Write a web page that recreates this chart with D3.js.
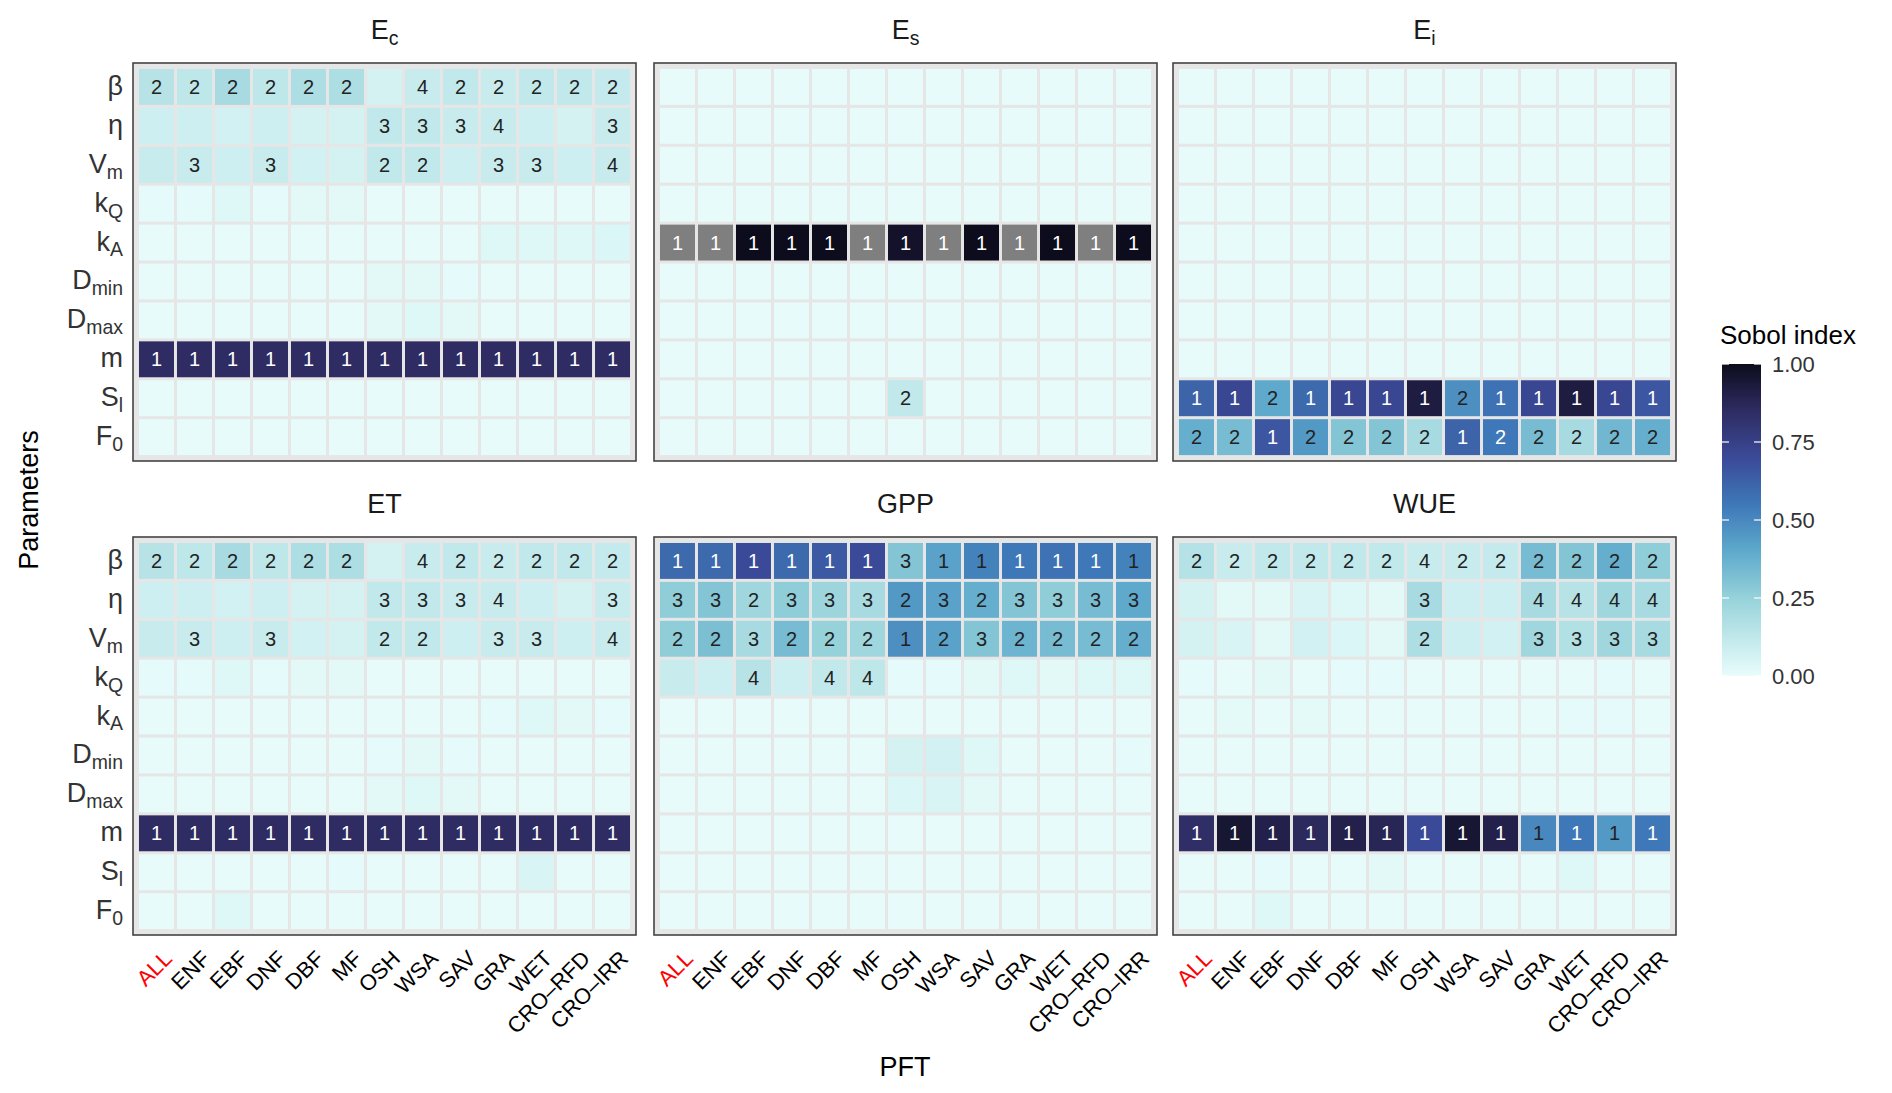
<!DOCTYPE html>
<html><head><meta charset="utf-8">
<script src="https://cdn.jsdelivr.net/npm/d3@7"></script>
<style>body{margin:0;background:#fff}text{font-family:"Liberation Sans",Arial,sans-serif}</style>
</head><body><svg id="c" width="1892" height="1093"></svg>
<script>
const pfts = ["ALL","ENF","EBF","DNF","DBF","MF","OSH","WSA","SAV","GRA","WET","CRO\u2013RFD","CRO\u2013IRR"];
const params = [["β",""],["η",""],["V","m"],["k","Q"],["k","A"],["D","min"],["D","max"],["m",""],["S","l"],["F","0"]];
const legendTicks = [0,0.25,0.5,0.75,1];
const z13 = v => Array(13).fill(v);
const E = z13("");

const EcVals = [
 [0.15,0.13,0.2,0.13,0.18,0.18,0.06,0.1,0.12,0.1,0.12,0.12,0.11],
 [0.08,0.08,0.07,0.08,0.06,0.06,0.12,0.12,0.1,0.1,0.08,0.06,0.1],
 [0.1,0.1,0.08,0.1,0.07,0.06,0.12,0.12,0.08,0.1,0.1,0.08,0.1],
 [0.01,0.01,0.03,0.01,0.02,0.02,0.005,0.005,0.005,0.005,0.005,0.005,0.005],
 [0.005,0.005,0.005,0.005,0.005,0.005,0.005,0.005,0.005,0.03,0.03,0.03,0.04],
 [0.005,0.005,0.005,0.005,0.005,0.005,0.02,0.02,0.01,0.005,0.005,0.005,0.005],
 [0.005,0.005,0.005,0.005,0.005,0.005,0.02,0.03,0.02,0.005,0.005,0.005,0.005],
 [0.85,0.85,0.85,0.85,0.85,0.85,0.85,0.85,0.85,0.85,0.85,0.85,0.85],
 z13(0.005), z13(0.005)];
const EcLab = [
 ["2","2","2","2","2","2","","4","2","2","2","2","2"],
 ["","","","","","","3","3","3","4","","","3"],
 ["","3","","3","","","2","2","","3","3","","4"],
 E,E,E,E, z13("1"), E,E];

const EtVals = [
 [0.15,0.13,0.2,0.13,0.18,0.18,0.06,0.1,0.12,0.1,0.12,0.12,0.11],
 [0.08,0.08,0.07,0.08,0.06,0.06,0.12,0.12,0.1,0.1,0.08,0.06,0.1],
 [0.1,0.1,0.08,0.1,0.07,0.06,0.12,0.12,0.08,0.1,0.1,0.08,0.1],
 [0.01,0.01,0.03,0.01,0.02,0.02,0.005,0.005,0.005,0.005,0.005,0.005,0.005],
 [0.005,0.005,0.005,0.005,0.005,0.005,0.005,0.005,0.005,0.01,0.03,0.02,0.01],
 [0.005,0.005,0.005,0.005,0.005,0.005,0.01,0.02,0.01,0.005,0.005,0.005,0.005],
 [0.005,0.005,0.005,0.005,0.005,0.005,0.02,0.03,0.02,0.005,0.005,0.005,0.005],
 z13(0.85),
 [0.005,0.005,0.005,0.005,0.005,0.01,0.005,0.005,0.005,0.005,0.05,0.005,0.005],
 [0.005,0.005,0.03,0.005,0.005,0.005,0.005,0.005,0.005,0.005,0.005,0.005,0.005]];
const EtLab = EcLab;

const EsVals = [
 z13(0.005),z13(0.005),z13(0.005),z13(0.005),
 [null,null,1,1,1,null,0.97,null,1,null,1,null,1],
 z13(0.005),z13(0.005),z13(0.005),
 [0.005,0.005,0.005,0.005,0.005,0.005,0.12,0.005,0.005,0.005,0.005,0.005,0.005],
 z13(0.005)];
const EsLab = [E,E,E,E,z13("1"),E,E,E,["","","","","","","2","","","","","",""],E];

const EiVals = [
 z13(0.005),z13(0.005),z13(0.005),z13(0.005),z13(0.005),z13(0.005),z13(0.005),z13(0.005),
 [0.62,0.72,0.4,0.6,0.72,0.72,0.92,0.48,0.57,0.72,0.92,0.72,0.66],
 [0.38,0.33,0.66,0.45,0.3,0.3,0.2,0.62,0.55,0.33,0.2,0.35,0.38]];
const EiLab = [E,E,E,E,E,E,E,E,
 ["1","1","2","1","1","1","1","2","1","1","1","1","1"],
 ["2","2","1","2","2","2","2","1","2","2","2","2","2"]];

const GppVals = [
 [0.6,0.6,0.7,0.6,0.65,0.7,0.3,0.42,0.52,0.55,0.57,0.55,0.52],
 [0.27,0.3,0.22,0.27,0.23,0.2,0.45,0.42,0.38,0.3,0.27,0.33,0.4],
 [0.27,0.32,0.2,0.33,0.25,0.22,0.48,0.42,0.3,0.36,0.33,0.33,0.38],
 [0.1,0.08,0.15,0.08,0.12,0.13,0.01,0.01,0.02,0.03,0.02,0.03,0.03],
 z13(0.005),
 [0.005,0.005,0.005,0.005,0.005,0.005,0.06,0.07,0.03,0.005,0.005,0.005,0.01],
 [0.005,0.005,0.005,0.005,0.005,0.005,0.04,0.05,0.02,0.005,0.005,0.005,0.005],
 z13(0.005),z13(0.005),z13(0.005)];
const GppLab = [
 ["1","1","1","1","1","1","3","1","1","1","1","1","1"],
 ["3","3","2","3","3","3","2","3","2","3","3","3","3"],
 ["2","2","3","2","2","2","1","2","3","2","2","2","2"],
 ["","","4","","4","4","","","","","","",""],E,E,E,E,E,E];

const WueVals = [
 [0.16,0.1,0.12,0.12,0.12,0.12,0.1,0.1,0.11,0.33,0.3,0.38,0.27],
 [0.06,0.02,0.02,0.05,0.03,0.02,0.2,0.08,0.08,0.2,0.15,0.22,0.2],
 [0.06,0.05,0.02,0.07,0.04,0.02,0.18,0.08,0.07,0.22,0.17,0.22,0.2],
 [0.01,0.005,0.02,0.005,0.01,0.01,0.005,0.005,0.005,0.005,0.005,0.01,0.005],
 [0.005,0.015,0.005,0.015,0.005,0.005,0.005,0.005,0.005,0.005,0.01,0.01,0.005],
 z13(0.005),z13(0.005),
 [0.84,0.95,0.9,0.86,0.9,0.88,0.7,0.95,0.9,0.5,0.55,0.45,0.55],
 [0.005,0.005,0.01,0.005,0.005,0.02,0.005,0.005,0.005,0.005,0.03,0.005,0.005],
 [0.005,0.005,0.03,0.005,0.005,0.005,0.005,0.005,0.005,0.005,0.005,0.005,0.005]];
const WueLab = [
 ["2","2","2","2","2","2","4","2","2","2","2","2","2"],
 ["","","","","","","3","","","4","4","4","4"],
 ["","","","","","","2","","","3","3","3","3"],
 E,E,E,E,z13("1"),E,E];

const panels = [
 {t:["E","c"],v:EcVals,l:EcLab,x:133,y:63},
 {t:["E","s"],v:EsVals,l:EsLab,x:654,y:63},
 {t:["E","i"],v:EiVals,l:EiLab,x:1173,y:63},
 {t:["ET",""],v:EtVals,l:EtLab,x:133,y:537},
 {t:["GPP",""],v:GppVals,l:GppLab,x:654,y:537},
 {t:["WUE",""],v:WueVals,l:WueLab,x:1173,y:537}];
const PW=503, PH=398;

const color = d3.scaleLinear()
  .domain([0,0.1,0.25,0.4,0.55,0.7,0.85,1])
  .range(["#e8fcfb","#c8ecee","#96d2da","#5ea9cc","#3e78b8","#3b4a98","#2e2c62","#0c0c1c"])
  .interpolate(d3.interpolateRgb).clamp(true);

const svg = d3.select("#c");

function sub(sel, main, s, size){
  sel.append("tspan").text(main);
  if(s) sel.append("tspan").text(s).attr("font-size",size*0.72).attr("dy",size*0.22);
}

panels.forEach((p,pi)=>{
  const g = svg.append("g").attr("transform",`translate(${p.x},${p.y})`);
  const x = d3.scaleBand().domain(pfts).range([6,PW-6]).paddingInner(0.08);
  const y = d3.scaleBand().domain(params.map(d=>d.join(""))).range([6,PH-6]).paddingInner(0.08);
  g.append("rect").attr("width",PW).attr("height",PH).attr("fill","#e6e6e6").attr("stroke","#444").attr("stroke-width",1.6);
  const cells=[];
  p.v.forEach((row,ri)=>row.forEach((v,ci)=>cells.push({r:params[ri].join(""),c:pfts[ci],v,l:p.l[ri][ci]})));
  const step = x.step(), gap = step - x.bandwidth();
  g.selectAll("rect.cell").data(cells).enter().append("rect")
   .attr("x",d=>x(d.c)-gap/2+1.5).attr("y",d=>y(d.r)-gap/2+1.5)
   .attr("width",step-3).attr("height",y.step()-3)
   .attr("fill",d=>d.v===null?"#7f7f7f":color(d.v));
  g.selectAll("text.cl").data(cells.filter(d=>d.l)).enter().append("text")
   .attr("x",d=>x(d.c)+x.bandwidth()/2).attr("y",d=>y(d.r)+y.bandwidth()/2+7)
   .attr("text-anchor","middle").attr("font-size",20)
   .attr("fill",d=>(d.v===null||d.v>0.52)?"#fff":"#222").text(d=>d.l);
  // title
  const tt = svg.append("text").attr("x",p.x+PW/2).attr("y",p.y-24).attr("text-anchor","middle").attr("font-size",27).attr("fill","#1a1a1a");
  sub(tt,p.t[0],p.t[1],27);
  if(pi%3===0){
    params.forEach(pr=>{
      const t = svg.append("text").attr("x",p.x-10).attr("y",p.y+y(pr.join(""))+y.bandwidth()/2+8)
        .attr("text-anchor","end").attr("font-size",27).attr("fill","#333");
      sub(t,pr[0],pr[1],27);
    });
  }
  if(pi>=3){
    pfts.forEach((c,i)=>{
      const cx = p.x + x(c)+x.bandwidth()/2 + 6, cy = p.y+PH+14;
      svg.append("text").attr("transform",`translate(${cx},${cy}) rotate(-45)`)
        .attr("text-anchor","end").attr("dy","0.7em").attr("font-size",22)
        .attr("fill",i===0?"#ff0000":"#000").text(c);
    });
  }
});

svg.append("text").attr("transform","translate(38,500) rotate(-90)").attr("text-anchor","middle").attr("font-size",27).attr("fill","#000").text("Parameters");
svg.append("text").attr("x",905).attr("y",1076).attr("text-anchor","middle").attr("font-size",27).attr("fill","#000").text("PFT");

// legend
const defs = svg.append("defs");
const grad = defs.append("linearGradient").attr("id","lg").attr("x1",0).attr("y1",1).attr("x2",0).attr("y2",0);
d3.range(0,1.001,0.05).forEach(t=>grad.append("stop").attr("offset",t).attr("stop-color",color(t)));
const ly = d3.scaleLinear().domain([0,1]).range([676,364]);
svg.append("rect").attr("x",1722).attr("y",364).attr("width",39).attr("height",312).attr("fill","url(#lg)");
svg.append("text").attr("x",1720).attr("y",344).attr("font-size",26).attr("fill","#000").text("Sobol index");
legendTicks.forEach(t=>{
  svg.append("line").attr("x1",1722).attr("x2",1729).attr("y1",ly(t)).attr("y2",ly(t)).attr("stroke","#fff").attr("stroke-width",1.2);
  svg.append("line").attr("x1",1754).attr("x2",1761).attr("y1",ly(t)).attr("y2",ly(t)).attr("stroke","#fff").attr("stroke-width",1.2);
  svg.append("text").attr("x",1772).attr("y",ly(t)+8).attr("font-size",22).attr("fill","#333").text(d3.format(".2f")(t));
});
</script></body></html>
